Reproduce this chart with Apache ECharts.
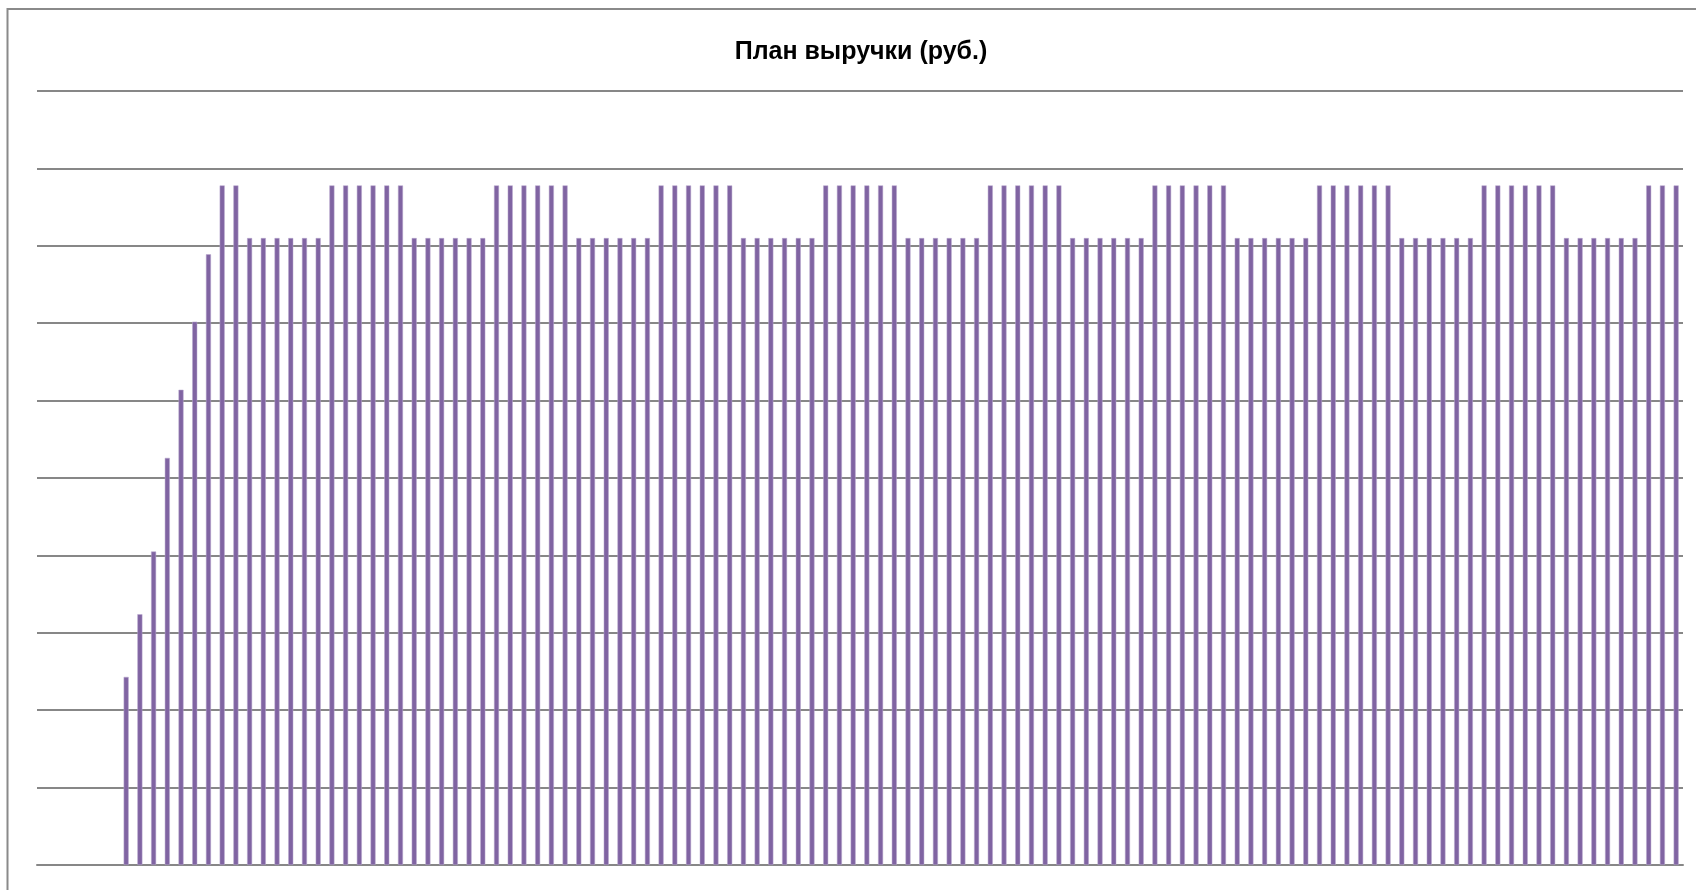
<!DOCTYPE html>
<html>
<head>
<meta charset="utf-8">
<script src="https://cdn.jsdelivr.net/npm/echarts@6/dist/echarts.min.js"></script>
<style>
  html, body { margin: 0; padding: 0; background: #fff; }
  #chart { width: 1696px; height: 890px; }
</style>
</head>
<body>
<div id="chart"></div>
<script>
// 120 monthly periods, first six have no plan yet
const months = Array.from({ length: 120 }, (_, i) => 'М' + (i + 1));

const emptyStart = [null, null, null, null, null, null];
const rampUp = [243000, 324000, 405000, 526000, 614000, 702000, 789000];
const highSeason = 878000;
const lowSeason = 810000;

// season pattern: 2 high, then 6 low / 6 high repeating, 3 high at the end
const seasonOrder = ['H', 'H',
  'L', 'H', 'L', 'H', 'L', 'H', 'L', 'H', 'L', 'H', 'L', 'H', 'L', 'H', 'L', 'H', 'L',
  'H3'];

const revenue = emptyStart.concat(rampUp);
seasonOrder.forEach(s => {
  if (s === 'H' && revenue.length < 15) revenue.push(highSeason);
  else if (s === 'H') for (let k = 0; k < 6; k++) revenue.push(highSeason);
  else if (s === 'L') for (let k = 0; k < 6; k++) revenue.push(lowSeason);
  else if (s === 'H3') for (let k = 0; k < 3; k++) revenue.push(highSeason);
});

const chart = echarts.init(document.getElementById('chart'));

const options = {
  animation: false,
  backgroundColor: '#fff',
  title: {
    text: 'План выручки (руб.)',
    left: 856,
    top: 35,
    textAlign: 'center',
    textStyle: {
      fontFamily: 'Liberation Sans, Arial, sans-serif',
      fontSize: 25,
      fontWeight: 'bold',
      color: '#000'
    }
  },
  graphic: [
    {
      type: 'rect',
      shape: { x: 7.5, y: 9, width: 1720, height: 900 },
      style: { fill: 'none', stroke: '#8a8a8a', lineWidth: 2 },
      silent: true
    }
  ],
  grid: {
    left: 37,
    right: 13,
    top: 91,
    bottom: 25
  },
  xAxis: {
    type: 'category',
    data: months,
    axisLine: { show: true, lineStyle: { color: '#878787', width: 2 } },
    axisTick: { show: false },
    axisLabel: { show: false }
  },
  yAxis: {
    type: 'value',
    min: 0,
    max: 1000000,
    interval: 100000,
    axisLine: { show: false },
    axisTick: { show: false },
    axisLabel: { show: false },
    splitLine: { lineStyle: { color: '#878787', width: 2 } }
  },
  series: [
    {
      name: 'План выручки',
      type: 'bar',
      data: revenue,
      barWidth: 5,
      itemStyle: {
        color: '#8064a2',
        borderColor: '#b9a9cf',
        borderWidth: 0.5
      }
    }
  ]
};

chart.setOption(options);
</script>
</body>
</html>
